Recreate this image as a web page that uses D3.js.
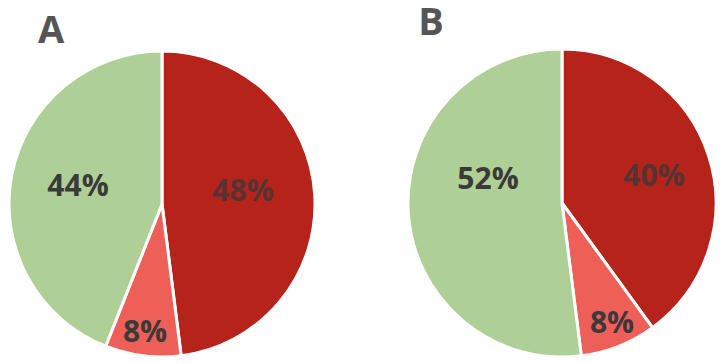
<!DOCTYPE html>
<html><head><meta charset="utf-8">
<script src="https://cdn.jsdelivr.net/npm/d3@7"></script>
<style>body{margin:0;background:#fff}svg{display:block}</style>
</head><body>
<script>
const categories = ["Red", "Light red", "Green"];
const panels = ["A", "B"];
const valuesA = [48, 8, 44];
const valuesB = [40, 8, 52];
const colors = ["#b5231a", "#ee5f57", "#aecf95"];

const W = 722, H = 363;
const svg = d3.select("body").append("svg").attr("width", W).attr("height", H);
const color = d3.scaleOrdinal().domain(categories).range(colors);

const layouts = [
  {cx: 162, cy: 204, r: 153, tx: 51, ty: 43, labelPos: [[243,189],[145,330],[78,184]]},
  {cx: 562, cy: 203, r: 154, tx: 431, ty: 35, labelPos: [[654,174],[612,321],[488,177]]}
];
const series = [valuesA, valuesB];

const pie = d3.pie().sort(null).value(d => d.v);
series.forEach((vals, i) => {
  const L = layouts[i];
  const data = vals.map((v, j) => ({cat: categories[j], v}));
  const arcs = pie(data);
  const arc = d3.arc().innerRadius(0).outerRadius(L.r);
  const g = svg.append("g").attr("transform", `translate(${L.cx},${L.cy})`);
  g.selectAll("path").data(arcs).join("path")
    .attr("d", arc)
    .attr("fill", d => color(d.data.cat))
    .attr("stroke", "#fff").attr("stroke-width", 3).attr("stroke-linejoin", "round");
  svg.selectAll(null).data(arcs).join("text")
    .attr("x", (d, j) => L.labelPos[j][0])
    .attr("y", (d, j) => L.labelPos[j][1])
    .attr("text-anchor", "middle").attr("dominant-baseline", "central")
    .attr("font-family", "Open Sans, sans-serif").attr("font-weight", 700)
    .attr("font-size", 30)
    .attr("fill", "#3a3a3a")
    .attr("fill-opacity", (d, j) => j === 0 ? 0.8 : 1)
    .text(d => d.data.v + "%");
  svg.append("text").attr("x", L.tx).attr("y", L.ty)
    .attr("text-anchor", "middle")
    .attr("font-family", "Open Sans, sans-serif").attr("font-weight", 700)
    .attr("font-size", 38).attr("fill", "#555555")
    .text(panels[i]);
});
</script>
</body></html>
